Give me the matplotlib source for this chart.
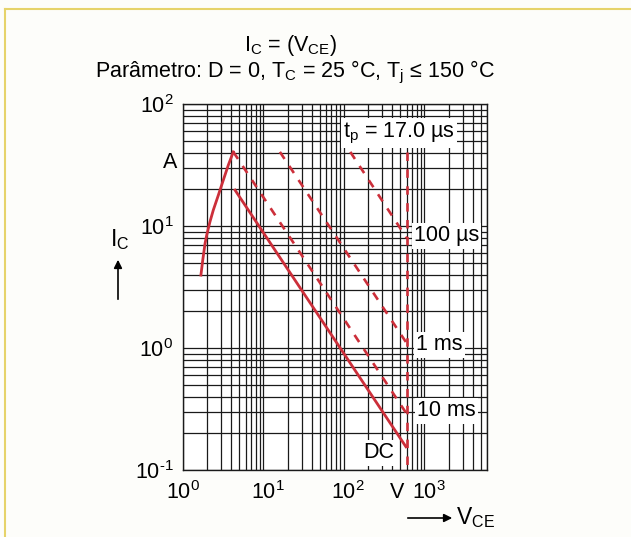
import matplotlib
matplotlib.use("Agg")
import matplotlib.pyplot as plt
import matplotlib.transforms as mtransforms
from matplotlib.ticker import NullFormatter, LogLocator
from matplotlib.lines import Line2D

plt.rcParams['font.family'] = ['Liberation Sans', 'DejaVu Sans']
plt.rcParams['mathtext.default'] = 'regular'

# rising limit curve (saturation), V_CE in V, I_C in A
sat_v = [1.67, 1.76, 1.88, 1.97, 2.16, 2.38, 2.75, 3.17, 3.66, 4.22]
sat_i = [3.96, 5.26, 7.2, 8.4, 10.8, 13.5, 17.9, 23.8, 31.6, 40.5]

# pulse limit lines (start, end)
v_10ms = [4.22, 600]
i_10ms = [40.5, 0.29]
v_1ms = [16.0, 600]
i_1ms = [40.5, 1.1]
v_100us = [120, 600]
i_100us = [40.5, 8.0]
v_dc = [4.43, 590]
i_dc = [19.7, 0.155]
v_max = 600
i_range = [40.5, 0.1]

xticks = [1, 10, 100, 1000]
xlabels = ['10$^0$', '10$^1$', '10$^2$', '10$^3$']
yticks = [0.1, 1, 10, 100]
ylabels = ['10$^{\u20101}$', '10$^0$', '10$^1$', '10$^2$']

red = '#cc2f3a'
fs = 15.5

fig = plt.figure(figsize=(6.31, 5.37), dpi=100, facecolor='#fdfdfa')
ax = fig.add_axes([183/631, 1-470/537, 304/631, 366/537])
ax.set_facecolor('white')
ax.set_xscale('log')
ax.set_yscale('log')
ax.set_xlim(1, 6000)
ax.set_ylim(0.1, 100)

ax.xaxis.set_minor_locator(LogLocator(base=10, subs=range(2, 10), numticks=20))
ax.yaxis.set_minor_locator(LogLocator(base=10, subs=range(2, 10), numticks=20))
ax.xaxis.set_minor_formatter(NullFormatter())
ax.yaxis.set_minor_formatter(NullFormatter())
ax.grid(which='both', color='#1a1a1a', lw=0.9)
ax.set_axisbelow(True)
ax.tick_params(which='both', length=0)
ax.set_xticks(xticks)
ax.set_xticklabels(xlabels, fontsize=fs)
ax.set_yticks(yticks)
ax.set_yticklabels(ylabels, fontsize=fs)
ax.tick_params(axis='x', pad=8)
ax.tick_params(axis='y', pad=7)
shift = mtransforms.ScaledTranslation(4/100, 0, fig.dpi_scale_trans)
for lab in ax.get_xticklabels()[1:]:
    lab.set_transform(lab.get_transform() + shift)
for s in ax.spines.values():
    s.set_color('#1a1a1a')
    s.set_linewidth(1.0)

dash = (0, (3.2, 3.2))
ax.plot(sat_v, sat_i, color=red, lw=2)
ax.plot(v_10ms, i_10ms, color=red, lw=1.9, linestyle=dash)
ax.plot(v_1ms, i_1ms, color=red, lw=1.9, linestyle=dash)
ax.plot(v_100us, i_100us, color=red, lw=1.9, linestyle=dash)
ax.plot([v_max, v_max], i_range, color=red, lw=1.9, linestyle=dash)
ax.plot(v_dc, i_dc, color=red, lw=2)

box = dict(facecolor='white', edgecolor='none', pad=1.5)
ax.text((343-183)/304, (470-133)/366, 't$_p$ = 17.0 µs', transform=ax.transAxes,
        fontsize=fs, ha='left', va='center', bbox=box)
ax.text((414-183)/304, (470-236)/366, '100 µs', transform=ax.transAxes,
        fontsize=fs, ha='left', va='center', bbox=box)
ax.text((416-183)/304, (470-345)/366, '1 ms', transform=ax.transAxes,
        fontsize=fs, ha='left', va='center', bbox=box)
ax.text((417-183)/304, (470-411)/366, '10 ms', transform=ax.transAxes,
        fontsize=fs, ha='left', va='center', bbox=box)
ax.text((363-183)/304, (470-453)/366, 'DC', transform=ax.transAxes,
        fontsize=fs, ha='left', va='center', bbox=box)

# unit labels and axis names
fig.text(177/631, 1-163/537, 'A', fontsize=fs, ha='right', va='center')
fig.text(397/631, 1-493/537, 'V', fontsize=fs, ha='center', va='center')
fig.text(120/631, 1-240/537, 'I$_C$', fontsize=fs+1, ha='center', va='center')
fig.add_artist(matplotlib.patches.FancyArrowPatch(
    (118/631, 1-302/537), (118/631, 1-257/537), transform=fig.transFigure,
    arrowstyle='-|>', mutation_scale=12, color='black', lw=1.2))
fig.add_artist(matplotlib.patches.FancyArrowPatch(
    (405/631, 1-518/537), (455/631, 1-518/537), transform=fig.transFigure,
    arrowstyle='-|>', mutation_scale=12, color='black', lw=1.2))
fig.text(456/631, 1-518/537, 'V$_{CE}$', fontsize=fs+1, ha='left', va='center')

# title
fig.text(291/631, 1-46/537, 'I$_C$ = (V$_{CE}$)', fontsize=fs, ha='center', va='center')
fig.text(295/631, 1-72/537, 'Parâmetro: D = 0, T$_C$ = 25 °C, T$_j$ ≤ 150 °C',
         fontsize=fs, ha='center', va='center')

# yellow page frame
fig.add_artist(Line2D([5/631, 5/631], [0, 1-9/537], transform=fig.transFigure,
                      color='#e6d36a', lw=1.5))
fig.add_artist(Line2D([5/631, 1], [1-9/537, 1-9/537], transform=fig.transFigure,
                      color='#e6d36a', lw=1.5))

fig.savefig('out.png', dpi=100, facecolor=fig.get_facecolor())
